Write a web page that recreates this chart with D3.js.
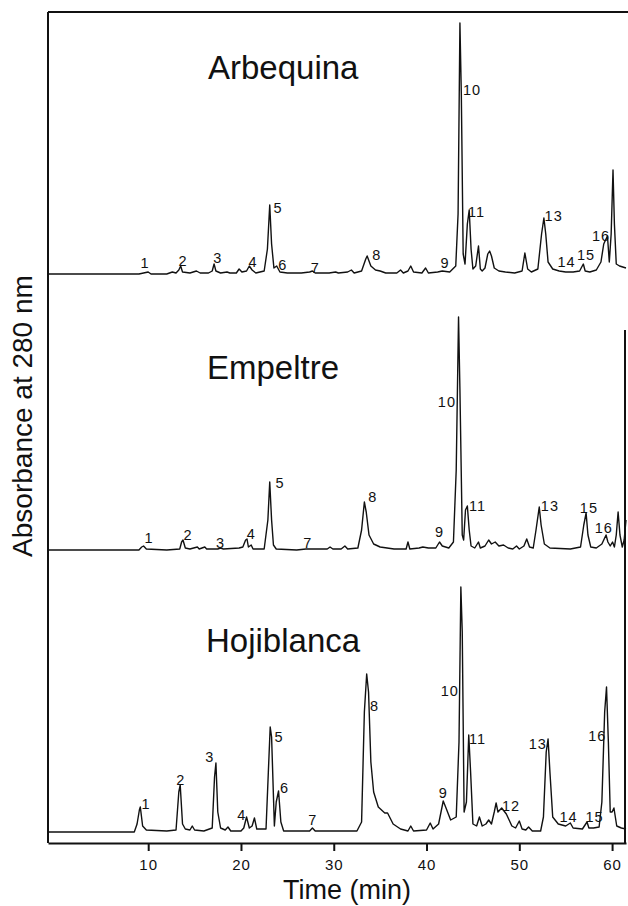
<!DOCTYPE html>
<html>
<head>
<meta charset="utf-8">
<script src="https://cdn.jsdelivr.net/npm/d3@7"></script>
<style>
  html, body { margin: 0; padding: 0; background: #fff; }
  svg { display: block; font-family: "Liberation Sans", Arial, Helvetica, sans-serif; }
</style>
</head>
<body>
<svg id="chart" width="628" height="906"></svg>
<script>
// retention time axis
const timeTicks = [10, 20, 30, 40, 50, 60];
const cultivars = ['Arbequina', 'Empeltre', 'Hojiblanca'];

// traces: [time (min), absorbance (arbitrary units)]
const arbequina = [
  [-0.8, 0], [9.0, 0], [9.5, 1], [10.0, 2], [10.3, 0], [12.0, 0], [12.6, 2], [13.0, 1],
  [13.3, 4], [13.5, 8], [13.7, 2], [14.5, 1], [15.2, 3], [15.6, 1], [16.5, 1], [16.9, 3],
  [17.1, 10], [17.3, 3], [17.8, 1], [18.5, 2], [18.8, 1], [19.5, 1], [19.8, 5], [20.1, 2],
  [20.6, 3], [20.9, 8], [21.2, 4], [21.6, 1], [22.5, 3], [22.85, 25], [23.1, 69], [23.3, 30],
  [23.55, 6], [23.85, 8], [24.2, 2], [25, 1], [26.5, 1], [27.4, 2], [27.7, 3], [28.0, 1],
  [29.5, 1], [30.2, 2], [30.5, 1], [31.5, 2], [31.9, 4], [32.2, 1], [33.0, 3], [33.45, 15],
  [33.6, 18], [34.0, 8], [34.5, 4], [35.0, 3], [35.6, 1], [36.8, 1], [37.2, 4], [37.5, 1],
  [38.0, 3], [38.3, 8], [38.6, 2], [39.5, 1], [39.9, 6], [40.2, 1], [41.2, 2], [41.7, 3],
  [42.5, 2], [43.15, 8], [43.4, 60], [43.6, 251], [43.75, 180], [43.95, 20], [44.15, 10],
  [44.4, 50], [44.6, 64], [44.8, 25], [45.0, 5], [45.3, 8], [45.6, 28], [45.8, 5], [46.0, 3],
  [46.3, 6], [46.6, 20], [46.8, 23], [47.0, 18], [47.3, 6], [47.8, 3], [48.5, 2], [49.5, 1],
  [50.3, 3], [50.6, 21], [50.9, 5], [51.3, 2], [52.0, 5], [52.4, 40], [52.65, 56], [52.85, 40],
  [53.1, 12], [53.6, 5], [54.3, 3], [55, 2], [55.8, 2], [56.5, 3], [56.9, 10], [57.1, 3],
  [57.6, 2], [58.3, 4], [58.8, 12], [59.1, 30], [59.5, 38], [59.7, 12], [59.9, 40],
  [60.1, 104], [60.25, 50], [60.45, 10], [60.8, 8], [61.5, 6]
];

const empeltre = [
  [-0.8, 0], [9.0, 0], [9.3, 3], [9.5, 4], [9.8, 1], [12, 0], [13.4, 1], [13.6, 8],
  [13.75, 10], [14.0, 2], [14.5, 1], [15.3, 3], [15.5, 1], [16.1, 3], [16.3, 1], [17.5, 1],
  [17.8, 2], [18.1, 1], [19.8, 2], [20.2, 3], [20.5, 10], [20.65, 11], [20.8, 3], [21.1, 5],
  [21.3, 1], [22.5, 1], [22.9, 30], [23.1, 68], [23.3, 30], [23.5, 5], [23.8, 1], [26, 0],
  [27.0, 1], [27.3, 1], [29.3, 1], [29.6, 3], [29.9, 1], [30.8, 1], [31.2, 4], [31.5, 1],
  [32.6, 2], [33.0, 20], [33.3, 48], [33.5, 38], [33.8, 15], [34.3, 6], [35.0, 3], [36.5, 1],
  [37.8, 1], [38.0, 8], [38.2, 1], [39.2, 2], [39.6, 3], [40.2, 2], [41.0, 2], [41.4, 8],
  [41.7, 4], [42.4, 2], [42.9, 8], [43.2, 80], [43.45, 233], [43.6, 160], [43.85, 15],
  [44.0, 10], [44.2, 40], [44.4, 44], [44.6, 20], [44.8, 4], [45.2, 2], [45.6, 8], [45.8, 2],
  [46.3, 4], [46.7, 10], [47.0, 6], [47.4, 8], [47.8, 4], [48.3, 5], [48.8, 2], [49.3, 1],
  [49.7, 4], [50.0, 1], [50.5, 4], [50.8, 11], [51.1, 3], [51.5, 2], [51.8, 20], [52.15, 43],
  [52.35, 25], [52.7, 6], [53.3, 2], [55.5, 1], [56.6, 3], [56.95, 25], [57.2, 37],
  [57.4, 15], [57.7, 3], [58.3, 2], [58.9, 6], [59.35, 15], [59.55, 8], [59.8, 4], [60.05, 8],
  [60.25, 3], [60.45, 15], [60.65, 38], [60.85, 15], [61.1, 3], [61.3, 10], [61.5, 30]
];

const hojiblanca = [
  [-0.8, 0], [8.5, 0], [8.8, 8], [9.05, 22], [9.15, 25], [9.4, 6], [9.8, 2], [12, 1],
  [13.0, 2], [13.3, 40], [13.45, 47], [13.7, 8], [14.0, 3], [14.5, 2], [14.75, 6], [15.0, 2],
  [16, 1], [16.9, 4], [17.15, 55], [17.3, 69], [17.5, 20], [17.8, 4], [18.3, 2], [18.6, 5],
  [18.9, 1], [20.0, 1], [20.3, 4], [20.6, 15], [20.9, 4], [21.2, 6], [21.45, 14], [21.7, 3],
  [22.7, 3], [22.95, 60], [23.15, 105], [23.3, 95], [23.6, 6], [23.8, 30], [24.05, 41],
  [24.3, 10], [24.6, 1], [26, 1], [27.4, 1], [27.7, 4], [28.0, 1], [32.5, 1], [33.0, 10],
  [33.3, 120], [33.55, 158], [33.75, 140], [34.0, 70], [34.3, 40], [34.8, 25], [35.5, 19],
  [35.8, 19], [36.4, 8], [37.2, 3], [38.0, 1], [38.3, 6], [38.6, 1], [40.0, 2], [40.4, 9],
  [40.7, 3], [41.3, 8], [41.8, 31], [42.1, 24], [42.6, 12], [43.2, 15], [43.5, 90],
  [43.7, 245], [43.85, 200], [44.05, 20], [44.3, 30], [44.55, 97], [44.75, 60], [45.0, 8],
  [45.4, 6], [45.7, 15], [46.0, 6], [46.4, 8], [46.7, 12], [47.0, 8], [47.3, 20], [47.5, 29],
  [47.7, 20], [48.1, 24], [48.6, 18], [49.2, 6], [49.6, 4], [50.0, 11], [50.3, 3], [50.7, 2],
  [51.0, 5], [51.4, 1], [52.3, 1], [52.6, 15], [52.9, 80], [53.1, 93], [53.3, 60], [53.6, 15],
  [54.2, 8], [55.0, 6], [55.5, 9], [55.8, 4], [56.8, 3], [57.3, 10], [57.5, 4], [58.0, 4],
  [58.6, 5], [58.9, 30], [59.2, 120], [59.4, 145], [59.6, 90], [59.8, 20], [60.0, 20],
  [60.2, 24], [60.5, 6], [61.0, 4], [61.5, 3]
];

// peak numbers: [label, time, absorbance] of the label centre
const arbequinaLabels = [
  ['1', 9.65, 11], ['2', 13.75, 13], ['3', 17.5, 16], ['4', 21.3, 12], ['5', 24.0, 66],
  ['6', 24.5, 9], ['7', 28.0, 6], ['8', 34.65, 19], ['9', 42.0, 11], ['10', 44.9, 184],
  ['11', 45.4, 62], ['13', 53.7, 58], ['14', 55.1, 12], ['15', 57.2, 19], ['16', 58.8, 38]
];
const empeltreLabels = [
  ['1', 10.1, 12], ['2', 14.3, 15], ['3', 17.8, 7], ['4', 21.1, 16], ['5', 24.2, 67],
  ['7', 27.2, 7], ['8', 34.2, 53], ['9', 41.4, 18], ['10', 42.2, 148], ['11', 45.5, 44],
  ['13', 53.3, 44], ['15', 57.5, 42], ['16', 59.1, 22]
];
const hojiblancaLabels = [
  ['1', 9.76, 28], ['2', 13.5, 52], ['3', 16.65, 75], ['4', 20.1, 17], ['5', 24.1, 95],
  ['6', 24.7, 44], ['7', 27.75, 12], ['8', 34.4, 126], ['9', 41.8, 39], ['10', 42.5, 141],
  ['11', 45.5, 93], ['12', 49.1, 26], ['13', 52.0, 88], ['14', 55.3, 15], ['15', 58.1, 15],
  ['16', 58.4, 96]
];

const traces = [arbequina, empeltre, hojiblanca];
const peakLabels = [arbequinaLabels, empeltreLabels, hojiblancaLabels];

const plotLeft = 48, plotRight = 626, plotTop = 12, plotBottom = 843;
const baselines = [274, 550, 832];
const titlePos = [[208, 79], [207, 379], [206, 652]];

const svg = d3.select('#chart');

const x = d3.scaleLinear().domain([-0.8, 61.5]).range([plotLeft, plotRight]);

// frame
const frame = svg.append('g')
  .attr('stroke', '#111')
  .attr('stroke-width', 2)
  .attr('fill', 'none');
frame.append('line').attr('x1', plotLeft).attr('x2', 628).attr('y1', plotTop).attr('y2', plotTop);
frame.append('line').attr('x1', plotLeft).attr('x2', plotLeft).attr('y1', plotTop).attr('y2', plotBottom);
frame.append('line').attr('x1', 625).attr('x2', 625).attr('y1', 330).attr('y2', plotBottom);

const xAxis = svg.append('g')
  .attr('transform', `translate(0,${plotBottom})`)
  .call(d3.axisBottom(x).tickValues(timeTicks).tickSize(8).tickSizeOuter(0).tickPadding(8));
xAxis.select('.domain').attr('stroke', '#111').attr('stroke-width', 2);
xAxis.selectAll('.tick line').attr('stroke', '#111').attr('stroke-width', 2);
xAxis.selectAll('.tick text')
  .attr('fill', '#111')
  .attr('font-size', 15)
  .attr('letter-spacing', 1)
  .attr('font-family', '"Liberation Sans", Arial, sans-serif');

svg.append('text')
  .attr('x', 347)
  .attr('y', 899)
  .attr('text-anchor', 'middle')
  .attr('font-size', 27)
  .attr('fill', '#111')
  .text('Time (min)');

svg.append('text')
  .attr('transform', 'translate(32,416) rotate(-90)')
  .attr('text-anchor', 'middle')
  .attr('font-size', 28)
  .attr('fill', '#111')
  .text('Absorbance at 280 nm');

traces.forEach((trace, i) => {
  const y = d3.scaleLinear().domain([0, 300]).range([baselines[i], baselines[i] - 300]);

  const line = d3.line()
    .x(d => x(d[0]))
    .y(d => y(d[1]));

  svg.append('path')
    .datum(trace)
    .attr('fill', 'none')
    .attr('stroke', '#111')
    .attr('stroke-width', 1.4)
    .attr('stroke-linejoin', 'round')
    .attr('d', line);

  svg.append('g')
    .selectAll('text')
    .data(peakLabels[i])
    .enter()
    .append('text')
    .attr('x', d => x(d[1]))
    .attr('y', d => y(d[2]))
    .attr('dy', '0.35em')
    .attr('text-anchor', 'middle')
    .attr('font-size', 14.5)
    .attr('letter-spacing', 1)
    .attr('fill', '#111')
    .text(d => d[0]);

  svg.append('text')
    .attr('x', titlePos[i][0])
    .attr('y', titlePos[i][1])
    .attr('font-size', 33)
    .attr('fill', '#111')
    .text(cultivars[i]);
});
</script>
</body>
</html>
